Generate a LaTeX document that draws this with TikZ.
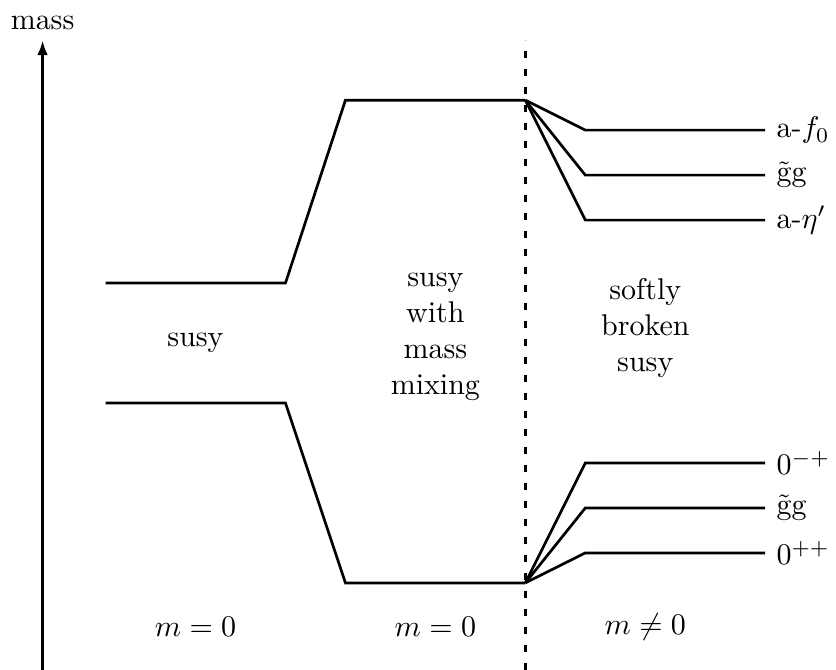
\documentclass[tikz,border=0pt]{standalone}
\usepackage{amsmath}
\usepackage{tikz}
\usetikzlibrary{arrows.meta, positioning}

\begin{document}
\begin{tikzpicture}[x=20pt, y=20pt, level/.style={line width=0.9pt}]
  \useasboundingbox (-1.76,-1.45) rectangle (12.18,9.72);
  % Axis
  \coordinate (axbot) at (-1.05,-1.45);
  \coordinate (axtop) at (-1.05,9.05);
  \draw[-{Latex[length=5pt,width=3.6pt]}, line width=1pt] (axbot) -- (axtop);
  \node[above] (mass) at (axtop) {mass};
  % Divider
  \coordinate (dvbot) at (7,-1.45);
  \coordinate (dvtop) at (7,9.05);
  \draw[level, dash pattern=on 2.4pt off 3.6pt] (dvbot) -- (dvtop);
  % Levels (m = 0)
  \coordinate (hi) at (7,8.05);
  \coordinate (lo) at (7,0);
  \draw[level] (0,5) -- (3,5) -- (4,8.05) -- (hi);
  \draw[level] (0,3) -- (3,3) -- (4,0) -- (lo);
  % Levels (m /= 0)
  \foreach \dy/\nm/\txt in {0.5/af/{a-$f_0$}, 1.25/gu/{\~{g}g}, 2/ae/{a-$\eta'$}}
    \draw[level] (hi) -- (8,8.05-\dy) -- (11,8.05-\dy) node[right] (\nm) {\txt};
  \foreach \dy/\nm/\txt in {0.5/pp/{$0^{++}$}, 1.25/gl/{\~{g}g}, 2/mp/{$0^{-+}$}}
    \draw[level] (lo) -- (8,\dy) -- (11,\dy) node[right] (\nm) {\txt};
  % Regions
  \node (susy) at (1.5,4) {susy};
  \node[align=center] (mixing) at (5.5,4.1) {susy\\with\\mass\\mixing};
  \node[align=center] (broken) at (9,4.25) {softly\\broken\\susy};
  \node (ma) at (1.5,-0.73) {$m=0$};
  \node (mb) at (5.5,-0.73) {$m=0$};
  \node (mc) at (9,-0.73) {$m\neq0$};
\end{tikzpicture}
\end{document}
